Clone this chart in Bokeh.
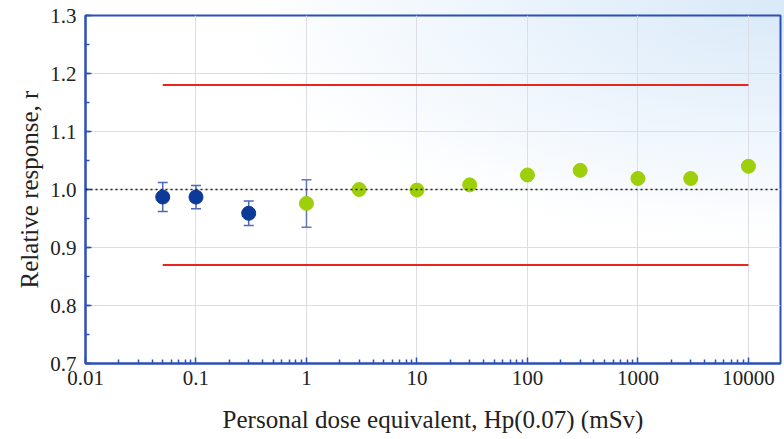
from bokeh.plotting import figure
from bokeh.models import (ColumnDataSource, FixedTicker, Whisker, TeeHead, Span, Range1d)
from bokeh.embed import file_html
from bokeh.resources import INLINE

# Measured relative response versus personal dose equivalent Hp(0.07)
dose_low = [0.05, 0.1, 0.3]
resp_low = [0.987, 0.987, 0.959]
err_low = [0.025, 0.020, 0.021]

dose_high = [1, 3, 10, 30, 100, 300, 1000, 3000, 10000]
resp_high = [0.976, 1.000, 0.999, 1.008, 1.025, 1.033, 1.019, 1.019, 1.040]
err_high = [0.041, 0.006, 0.005, 0.006, 0.006, 0.007, 0.007, 0.006, 0.007]

# Acceptance limits over the rated range
limit_dose = [0.05, 10000]
upper_limit = 1.18
lower_limit = 0.87
reference = 1.0

x_ticks = [0.01, 0.1, 1, 10, 100, 1000, 10000]
x_tick_labels = ["0.01", "0.1", "1", "10", "100", "1000", "10000"]
y_ticks = [0.7, 0.8, 0.9, 1.0, 1.1, 1.2, 1.3]
y_tick_labels = ["0.7", "0.8", "0.9", "1.0", "1.1", "1.2", "1.3"]

x_title = "Personal dose equivalent, Hp(0.07) (mSv)"
y_title = "Relative response, r"

W, H = 784, 439
FONT = "Liberation Serif"
AXIS_BLUE = "#2d4fb6"
TEXT = "#222222"

p = figure(width=W, height=H, x_axis_type="log",
           x_range=Range1d(0.01, 19500), y_range=Range1d(0.7, 1.3),
           output_backend="svg", toolbar_location=None,
           min_border_left=85, min_border_right=4, min_border_top=15, min_border_bottom=76)

p.background_fill_color = None
p.border_fill_color = None
p.styles = {"background": "radial-gradient(ellipse 70% 55% at 100% 0%, "
                          "#d9e9f8 0%, #eaf3fc 45%, #ffffff 100%)"}
p.outline_line_color = AXIS_BLUE
p.outline_line_width = 2

# ticks: decades with 2..9 minor marks on x, 0.05 steps on y
minor_x = [m * 10.0 ** e for e in range(-2, 5) for m in range(2, 10)]
p.xaxis.ticker = FixedTicker(ticks=x_ticks, minor_ticks=minor_x)
p.xaxis.major_label_overrides = dict(zip(x_ticks, x_tick_labels))
minor_y = [round(0.7 + 0.05 * i, 2) for i in range(13)]
p.yaxis.ticker = FixedTicker(ticks=y_ticks, minor_ticks=minor_y)
p.yaxis.major_label_overrides = dict(zip(y_ticks, y_tick_labels))

p.axis.axis_line_color = AXIS_BLUE
p.axis.axis_line_width = 2
p.axis.major_tick_line_color = AXIS_BLUE
p.axis.minor_tick_line_color = AXIS_BLUE
p.axis.major_tick_line_width = 1.5
p.axis.minor_tick_line_width = 1.5
p.axis.major_tick_in = 6
p.axis.major_tick_out = 0
p.axis.minor_tick_in = 4
p.axis.minor_tick_out = 0
p.axis.major_label_text_font = FONT
p.axis.major_label_text_font_size = "21px"
p.axis.major_label_text_color = TEXT
p.xaxis.major_label_standoff = 7
p.yaxis.major_label_standoff = 9

# axis titles
p.xaxis.axis_label = x_title
p.yaxis.axis_label = y_title
p.axis.axis_label_text_font = FONT
p.axis.axis_label_text_font_size = "25px"
p.axis.axis_label_text_font_style = "normal"
p.axis.axis_label_text_color = TEXT
p.xaxis.axis_label_standoff = 18
p.yaxis.axis_label_standoff = 4

p.grid.grid_line_color = "#dcdde6"
p.grid.grid_line_width = 1

# reference line and limits
p.add_layout(Span(location=reference, dimension="width", line_color=TEXT,
                  line_width=1.5, line_dash="2 3"))
p.line(limit_dose, [upper_limit] * 2, line_color="#e8261c", line_width=2)
p.line(limit_dose, [lower_limit] * 2, line_color="#e8261c", line_width=2)

src_low = ColumnDataSource(dict(x=dose_low, y=resp_low,
                                lo=[r - e for r, e in zip(resp_low, err_low)],
                                hi=[r + e for r, e in zip(resp_low, err_low)]))
src_high = ColumnDataSource(dict(x=dose_high, y=resp_high,
                                 lo=[r - e for r, e in zip(resp_high, err_high)],
                                 hi=[r + e for r, e in zip(resp_high, err_high)]))

for src, col in ((src_low, "#4f67b8"), (src_high, "#6477b5")):
    wk = Whisker(source=src, base="x", upper="hi", lower="lo", dimension="height",
                 line_color=col, line_width=1.5,
                 upper_head=TeeHead(size=10, line_color=col, line_width=1.5),
                 lower_head=TeeHead(size=10, line_color=col, line_width=1.5))
    p.add_layout(wk)

p.scatter("x", "y", source=src_low, size=14, color="#0b3a98")
p.scatter("x", "y", source=src_high, size=14, color="#9ecf0b")

open("out.html", "w").write(file_html(p, INLINE))
